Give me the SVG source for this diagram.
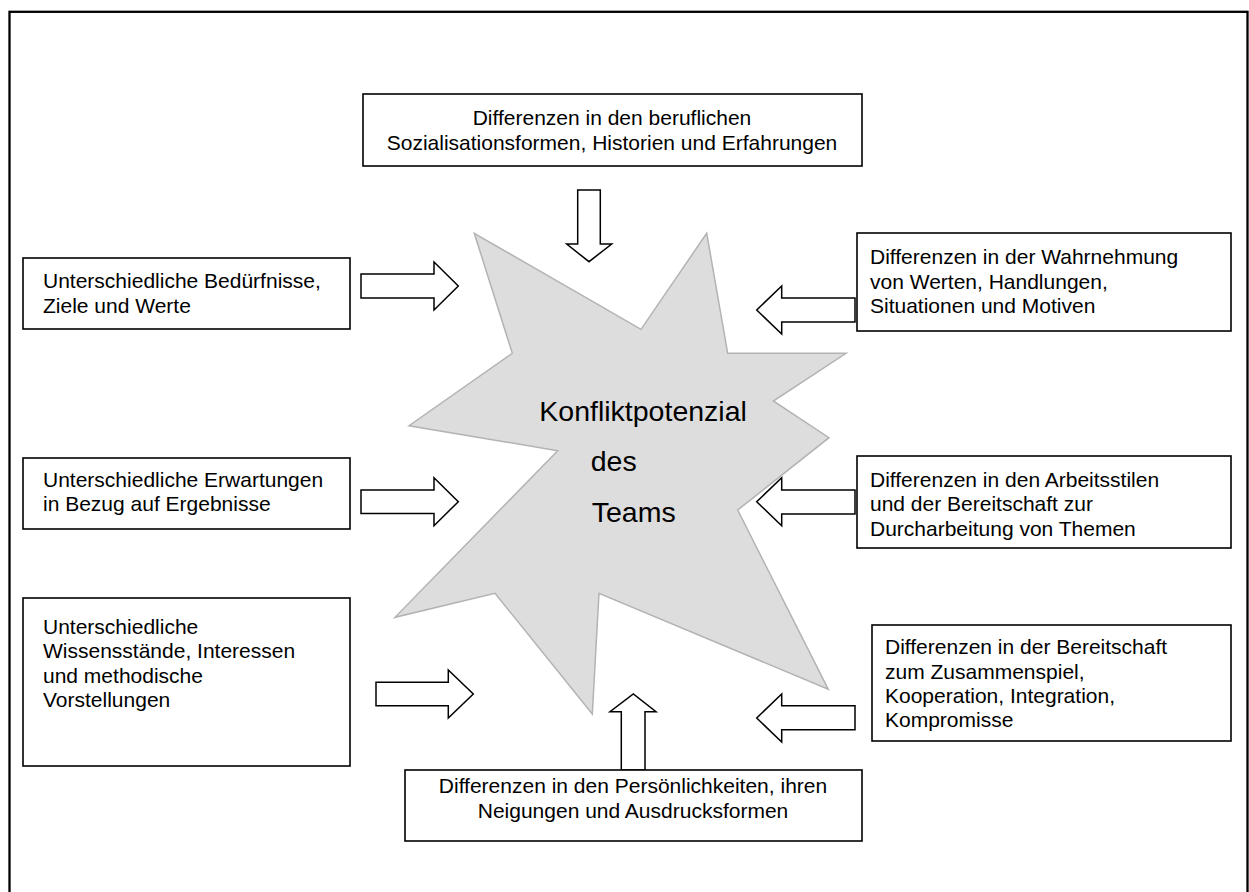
<svg xmlns="http://www.w3.org/2000/svg" width="1249" height="892" viewBox="0 0 1249 892">
<style>
.box{fill:#fff;stroke:#000;stroke-width:1.6}
.arr{fill:#fff;stroke:#000;stroke-width:1.5;stroke-linejoin:miter}
text{font-family:"Liberation Sans",Arial,sans-serif;font-size:21px;fill:#000}
.c{text-anchor:middle}
.big{font-size:28.5px}
</style>
<rect x="0" y="0" width="1249" height="892" fill="#fff"/>
<rect x="9.5" y="11.8" width="1238" height="900" fill="none" stroke="#000" stroke-width="2.3"/>
<g id="star">
<polygon points="474.3,233.3 641,329.3 706.7,233.3 727.7,353.3 846,353.3 773.3,401 829,437.7 737.7,510 828.3,689.3 599,593.3 592.3,714 495,593.3 395,617.3 557.7,450.7 409,425.7 512.3,353.3" fill="#dddddd" stroke="#b3b3b3" stroke-width="1.5"/>
<text class="big" x="539.3" y="420.7">Konfliktpotenzial</text>
<text class="big" x="590.7" y="471">des</text>
<text class="big" x="591.7" y="521.7">Teams</text>
</g>
<g id="connectors">
<polygon class="arr" points="577.7,190 600.3,190 600.3,244 611.7,244 589,261.7 566.7,244 577.7,244"/>
<polygon class="arr" points="361,274 434,274 434,262 458.3,286 434,310 434,298 361,298"/>
<polygon class="arr" points="361,490 434,490 434,477.7 458.3,501.7 434,525.7 434,513.5 361,513.5"/>
<polygon class="arr" points="376,682.3 448.3,682.3 448.3,670 473.3,694 448.3,718 448.3,705.7 376,705.7"/>
<polygon class="arr" points="855,298 781.7,298 781.7,286 756.7,310 781.7,334 781.7,322 855,322"/>
<polygon class="arr" points="855,490 781.7,490 781.7,477.7 756.7,501.7 781.7,525.7 781.7,514 855,514"/>
<polygon class="arr" points="855,705.7 781.7,705.7 781.7,694 756.7,718 781.7,742 781.7,729.7 855,729.7"/>
<polygon class="arr" points="621.3,770 621.3,711.7 610,711.7 633.3,694 656,711.7 645,711.7 645,770"/>
</g>
<g id="n-top">
<rect class="box" x="363" y="94" width="499" height="72"/>
<text class="c" x="612" y="125">Differenzen in den beruflichen</text>
<text class="c" x="612" y="150">Sozialisationsformen, Historien und Erfahrungen</text>
</g>
<g id="n-left1">
<rect class="box" x="23" y="258" width="327" height="71"/>
<text x="43" y="288">Unterschiedliche Bedürfnisse,</text>
<text x="43" y="313">Ziele und Werte</text>
</g>
<g id="n-left2">
<rect class="box" x="23" y="458" width="327" height="71"/>
<text x="43" y="487">Unterschiedliche Erwartungen</text>
<text x="43" y="511">in Bezug auf Ergebnisse</text>
</g>
<g id="n-left3">
<rect class="box" x="23" y="598" width="327" height="168"/>
<text x="43" y="634">Unterschiedliche</text>
<text x="43" y="658">Wissensstände, Interessen</text>
<text x="43" y="683">und methodische</text>
<text x="43" y="707">Vorstellungen</text>
</g>
<g id="n-right1">
<rect class="box" x="857" y="233" width="374" height="98"/>
<text x="870" y="264">Differenzen in der Wahrnehmung</text>
<text x="870" y="289">von Werten, Handlungen,</text>
<text x="870" y="313">Situationen und Motiven</text>
</g>
<g id="n-right2">
<rect class="box" x="857" y="456" width="374" height="92"/>
<text x="870" y="487">Differenzen in den Arbeitsstilen</text>
<text x="870" y="511">und der Bereitschaft zur</text>
<text x="870" y="536">Durcharbeitung von Themen</text>
</g>
<g id="n-right3">
<rect class="box" x="872" y="625" width="359" height="116"/>
<text x="885" y="654">Differenzen in der Bereitschaft</text>
<text x="885" y="679">zum Zusammenspiel,</text>
<text x="885" y="703">Kooperation, Integration,</text>
<text x="885" y="727">Kompromisse</text>
</g>
<g id="n-bottom">
<rect class="box" x="405" y="770" width="457" height="71"/>
<text class="c" x="633" y="793">Differenzen in den Persönlichkeiten, ihren</text>
<text class="c" x="633" y="818">Neigungen und Ausdrucksformen</text>
</g>
</svg>
